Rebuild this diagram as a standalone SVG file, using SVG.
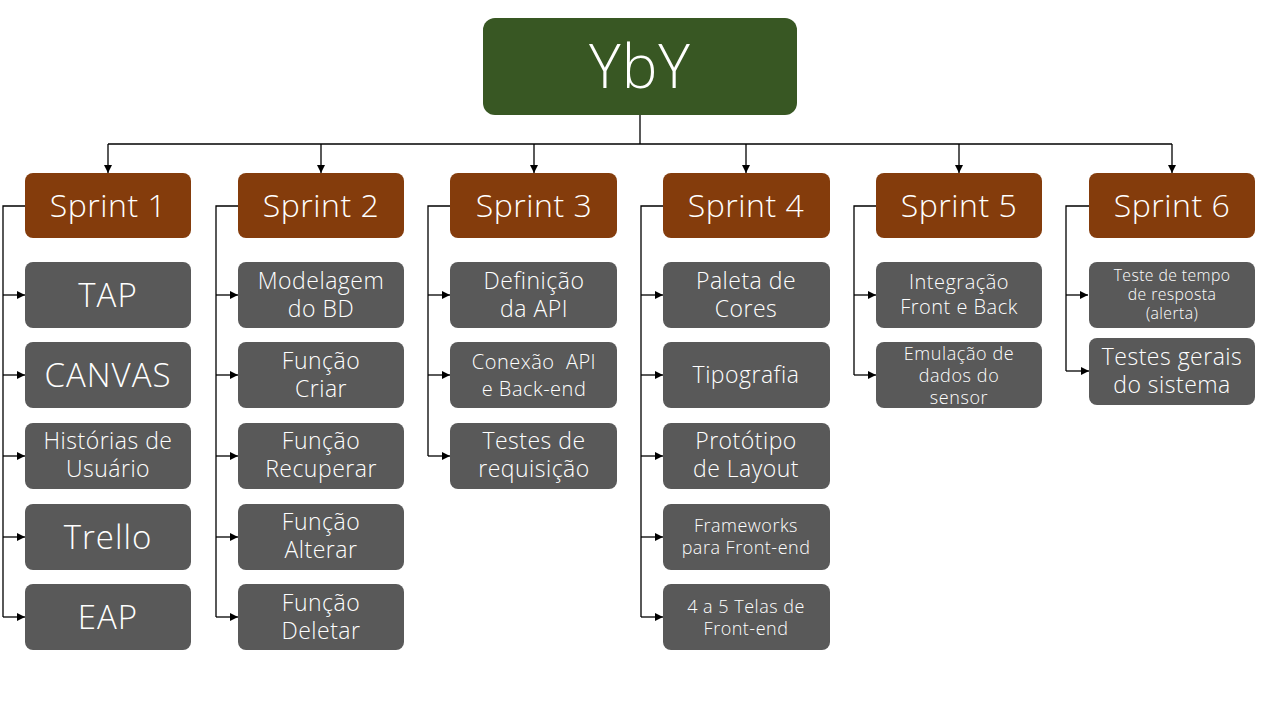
<svg xmlns="http://www.w3.org/2000/svg" width="1280" height="720" viewBox="0 0 1280 720">
<style>
.root{fill:#385723}
.sp{fill:#843C0C}
.ch{fill:#595959}
text{fill:#FFFFFF;font-family:"Open Sans","Noto Sans","DejaVu Sans",sans-serif;font-weight:300;text-anchor:middle}
.t1{font-size:60px;letter-spacing:1px}
.t2{font-size:32px;letter-spacing:0.5px}
.t2c{font-size:33px;letter-spacing:1px}
.t3{font-size:23px;letter-spacing:0.5px}
.t4{font-size:20px;letter-spacing:0.5px}
.t4s{font-size:18px;letter-spacing:0.6px}
.t5{font-size:18px;letter-spacing:0.5px}
.t6{font-size:15.8px;letter-spacing:0.4px}
.c{fill:none;stroke:#000;stroke-width:1.3}
</style>
<defs>
<marker id="a" viewBox="0 0 10 10" refX="10" refY="5" markerWidth="8" markerHeight="8" markerUnits="userSpaceOnUse" orient="auto">
<path d="M0,0 L10,5 L0,10 z" fill="#000"/>
</marker>
</defs>
<rect width="1280" height="720" fill="#fff"/>
<g id="connectors">
<path class="c" d="M640,115 V144"/>
<path class="c" d="M108,144 H1172"/>
<path class="c" d="M108,144 V173" marker-end="url(#a)"/>
<path class="c" d="M321,144 V173" marker-end="url(#a)"/>
<path class="c" d="M534,144 V173" marker-end="url(#a)"/>
<path class="c" d="M746,144 V173" marker-end="url(#a)"/>
<path class="c" d="M959,144 V173" marker-end="url(#a)"/>
<path class="c" d="M1172,144 V173" marker-end="url(#a)"/>
<path class="c" d="M25,206 H3 V617"/>
<path class="c" d="M3,295 H25" marker-end="url(#a)"/>
<path class="c" d="M3,375 H25" marker-end="url(#a)"/>
<path class="c" d="M3,456 H25" marker-end="url(#a)"/>
<path class="c" d="M3,537 H25" marker-end="url(#a)"/>
<path class="c" d="M3,617 H25" marker-end="url(#a)"/>
<path class="c" d="M238,206 H216 V617"/>
<path class="c" d="M216,295 H238" marker-end="url(#a)"/>
<path class="c" d="M216,375 H238" marker-end="url(#a)"/>
<path class="c" d="M216,456 H238" marker-end="url(#a)"/>
<path class="c" d="M216,537 H238" marker-end="url(#a)"/>
<path class="c" d="M216,617 H238" marker-end="url(#a)"/>
<path class="c" d="M450,206 H428 V456"/>
<path class="c" d="M428,295 H450" marker-end="url(#a)"/>
<path class="c" d="M428,375 H450" marker-end="url(#a)"/>
<path class="c" d="M428,456 H450" marker-end="url(#a)"/>
<path class="c" d="M663,206 H641 V617"/>
<path class="c" d="M641,295 H663" marker-end="url(#a)"/>
<path class="c" d="M641,375 H663" marker-end="url(#a)"/>
<path class="c" d="M641,456 H663" marker-end="url(#a)"/>
<path class="c" d="M641,537 H663" marker-end="url(#a)"/>
<path class="c" d="M641,617 H663" marker-end="url(#a)"/>
<path class="c" d="M876,206 H854 V375"/>
<path class="c" d="M854,295 H876" marker-end="url(#a)"/>
<path class="c" d="M854,375 H876" marker-end="url(#a)"/>
<path class="c" d="M1089,206 H1066 V371"/>
<path class="c" d="M1066,295 H1088" marker-end="url(#a)"/>
<path class="c" d="M1066,371 H1089" marker-end="url(#a)"/>
</g>
<g id="root"><rect class="root" x="483" y="18" width="314" height="97" rx="12"/><text class="t1" x="640" y="88">YbY</text></g>

<g id="sprint1"><rect class="sp" x="25" y="173" width="166" height="65" rx="8"/><text class="t2" x="108" y="217">Sprint 1</text></g>
<g id="sprint2"><rect class="sp" x="238" y="173" width="166" height="65" rx="8"/><text class="t2" x="321" y="217">Sprint 2</text></g>
<g id="sprint3"><rect class="sp" x="450" y="173" width="167" height="65" rx="8"/><text class="t2" x="534" y="217">Sprint 3</text></g>
<g id="sprint4"><rect class="sp" x="663" y="173" width="167" height="65" rx="8"/><text class="t2" x="746" y="217">Sprint 4</text></g>
<g id="sprint5"><rect class="sp" x="876" y="173" width="166" height="65" rx="8"/><text class="t2" x="959" y="217">Sprint 5</text></g>
<g id="sprint6"><rect class="sp" x="1089" y="173" width="166" height="65" rx="8"/><text class="t2" x="1172" y="217">Sprint 6</text></g>

<g id="tap"><rect class="ch" x="25" y="262" width="166" height="66" rx="8"/><text class="t2c" x="108" y="307">TAP</text></g>
<g id="canvas"><rect class="ch" x="25" y="342" width="166" height="66" rx="8"/><text class="t2c" x="108" y="387">CANVAS</text></g>
<g id="historias"><rect class="ch" x="25" y="423" width="166" height="66" rx="8"/><text class="t3" x="108" y="449">Histórias de</text><text class="t3" x="108" y="477">Usuário</text></g>
<g id="trello"><rect class="ch" x="25" y="504" width="166" height="66" rx="8"/><text class="t2c" x="108" y="549">Trello</text></g>
<g id="eap"><rect class="ch" x="25" y="584" width="166" height="66" rx="8"/><text class="t2c" x="108" y="629">EAP</text></g>

<g id="modelagem"><rect class="ch" x="238" y="262" width="166" height="66" rx="8"/><text class="t3" x="321" y="289">Modelagem</text><text class="t3" x="321" y="317">do BD</text></g>
<g id="criar"><rect class="ch" x="238" y="342" width="166" height="66" rx="8"/><text class="t3" x="321" y="369">Função</text><text class="t3" x="321" y="397">Criar</text></g>
<g id="recuperar"><rect class="ch" x="238" y="423" width="166" height="66" rx="8"/><text class="t3" x="321" y="449">Função</text><text class="t3" x="321" y="477">Recuperar</text></g>
<g id="alterar"><rect class="ch" x="238" y="504" width="166" height="66" rx="8"/><text class="t3" x="321" y="530">Função</text><text class="t3" x="321" y="558">Alterar</text></g>
<g id="deletar"><rect class="ch" x="238" y="584" width="166" height="66" rx="8"/><text class="t3" x="321" y="611">Função</text><text class="t3" x="321" y="639">Deletar</text></g>

<g id="definicao"><rect class="ch" x="450" y="262" width="167" height="66" rx="8"/><text class="t3" x="534" y="289">Definição</text><text class="t3" x="534" y="317">da API</text></g>
<g id="conexao"><rect class="ch" x="450" y="342" width="167" height="66" rx="8"/><text class="t4" x="534" y="369" xml:space="preserve">Conexão  API</text><text class="t4" x="534" y="396">e Back-end</text></g>
<g id="testesreq"><rect class="ch" x="450" y="423" width="167" height="66" rx="8"/><text class="t3" x="534" y="449">Testes de</text><text class="t3" x="534" y="477">requisição</text></g>

<g id="paleta"><rect class="ch" x="663" y="262" width="167" height="66" rx="8"/><text class="t3" x="746" y="289">Paleta de</text><text class="t3" x="746" y="317">Cores</text></g>
<g id="tipografia"><rect class="ch" x="663" y="342" width="167" height="66" rx="8"/><text class="t3" x="746" y="383">Tipografia</text></g>
<g id="prototipo"><rect class="ch" x="663" y="423" width="167" height="66" rx="8"/><text class="t3" x="746" y="449">Protótipo</text><text class="t3" x="746" y="477">de Layout</text></g>
<g id="frameworks"><rect class="ch" x="663" y="504" width="167" height="66" rx="8"/><text class="t5" x="746" y="532">Frameworks</text><text class="t5" x="746" y="554">para Front-end</text></g>
<g id="telas"><rect class="ch" x="663" y="584" width="167" height="66" rx="8"/><text class="t5" x="746" y="613">4 a 5 Telas de</text><text class="t5" x="746" y="635">Front-end</text></g>

<g id="integracao"><rect class="ch" x="876" y="262" width="166" height="66" rx="8"/><text class="t4" x="959" y="289">Integração</text><text class="t4" x="959" y="314">Front e Back</text></g>
<g id="emulacao"><rect class="ch" x="876" y="342" width="166" height="66" rx="8"/><text class="t4s" x="959" y="360">Emulação de</text><text class="t4s" x="959" y="382">dados do</text><text class="t4s" x="959" y="404">sensor</text></g>

<g id="tempo"><rect class="ch" x="1089" y="262" width="166" height="66" rx="8"/><text class="t6" x="1172" y="281">Teste de tempo</text><text class="t6" x="1172" y="300">de resposta</text><text class="t6" x="1172" y="319">(alerta)</text></g>
<g id="gerais"><rect class="ch" x="1089" y="338" width="166" height="67" rx="8"/><text class="t3" x="1172" y="365">Testes gerais</text><text class="t3" x="1172" y="393">do sistema</text></g>
</svg>
